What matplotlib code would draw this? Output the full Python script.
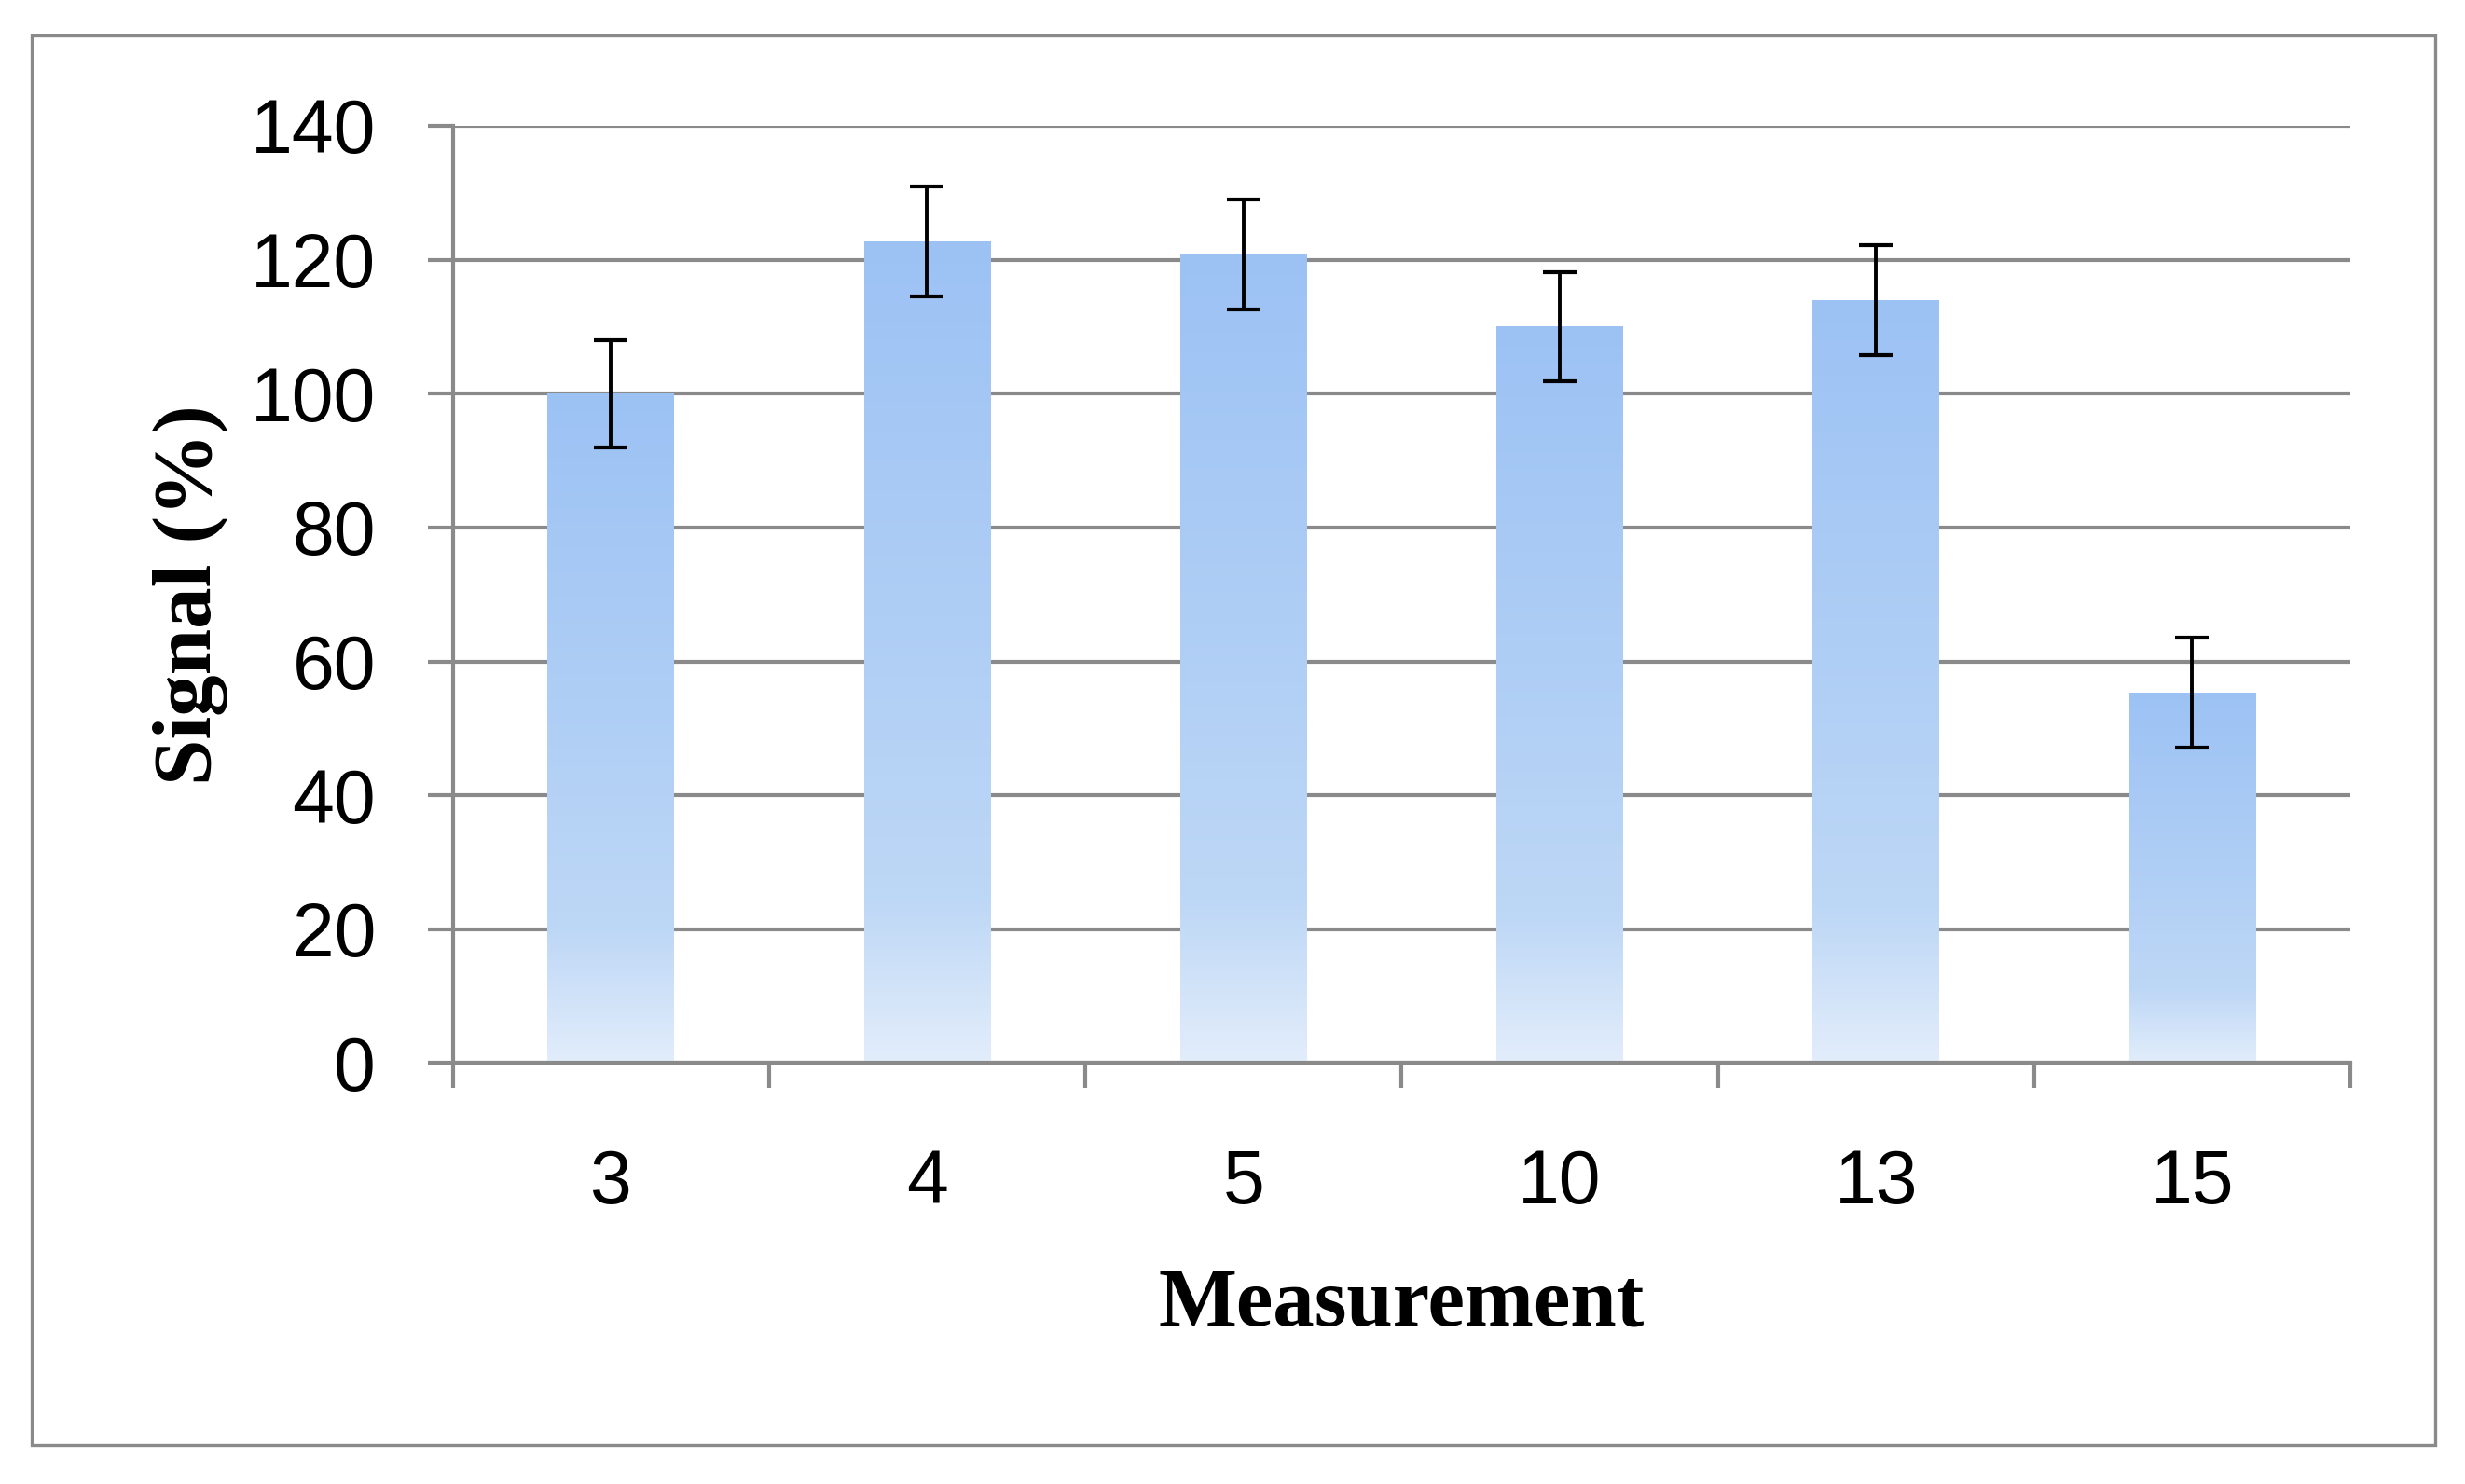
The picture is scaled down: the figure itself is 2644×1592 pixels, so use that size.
import matplotlib
matplotlib.use('Agg')

import numpy as np
import matplotlib.pyplot as plt
from matplotlib.colors import LinearSegmentedColormap
from matplotlib.patches import Rectangle

# Data
measurements = ['3', '4', '5', '10', '13', '15']
signal = [100, 122.7, 120.8, 110, 113.9, 55.3]
signal_err = [8.0, 8.2, 8.2, 8.1, 8.2, 8.2]

GREY = '#8A8A8A'

# Bar fill, dark at the top and fading out near the base
bar_cmap = LinearSegmentedColormap.from_list(
    'bar_fade', [(0.0, '#9CC2F4'), (0.8, '#BDD7F6'), (1.0, '#E2EDFB')])

fig = plt.figure(figsize=(13.22, 7.96), dpi=200)
ax = fig.add_axes([0.18366, 0.28361, 0.76986, 0.63165])

x = np.arange(len(measurements))
bars = ax.bar(x, signal, width=0.4, color='none', edgecolor='none', zorder=2)

# Gradient fill for each bar, clipped to the bar rectangle
grad = np.linspace(0, 1, 256).reshape(-1, 1)
for b in bars:
    x0, y0 = b.get_x(), b.get_y()
    w, h = b.get_width(), b.get_height()
    im = ax.imshow(grad, cmap=bar_cmap, aspect='auto', origin='upper',
                   extent=(x0, x0 + w, y0, y0 + h), zorder=2,
                   interpolation='bilinear')
    im.set_clip_path(b)

ax.errorbar(x, signal, yerr=signal_err, fmt='none', ecolor='black',
            elinewidth=1.4, capsize=6.5, capthick=1.5, zorder=3)

ax.set_xlim(-0.5, len(measurements) - 0.5)
ax.set_ylim(0, 140)
ax.set_yticks(np.arange(0, 141, 20))

# Major x ticks at the category boundaries, labels on minor ticks at centres
ax.set_xticks(np.arange(-0.5, len(measurements), 1.0))
ax.set_xticklabels([])
ax.set_xticks(x, minor=True)
ax.set_xticklabels(measurements, minor=True)

ax.yaxis.grid(True, color=GREY, linewidth=1.5, zorder=1)
ax.set_axisbelow(True)

for side in ['top', 'right']:
    ax.spines[side].set_visible(False)
for side in ['left', 'bottom']:
    ax.spines[side].set_color(GREY)
    ax.spines[side].set_linewidth(1.5)
ax.spines['bottom'].set_zorder(4)

ax.tick_params(axis='y', which='major', length=9.7, width=1.5, color=GREY,
               pad=20, labelsize=29, labelfontfamily='Liberation Sans')
ax.tick_params(axis='x', which='major', length=9.7, width=1.5, color=GREY,
               direction='out')
ax.tick_params(axis='x', which='minor', length=0, pad=33, labelsize=29,
               labelfontfamily='Liberation Sans')

ax.set_xlabel('Measurement', fontsize=32, fontweight='bold',
              family='Liberation Serif')
ax.xaxis.set_label_coords(0.5, -0.258)
ax.xaxis.label.set_va('center')
ax.set_ylabel('Signal (%)', fontsize=32, fontweight='bold',
              family='Liberation Serif')
ax.yaxis.set_label_coords(-0.138, 0.5)
ax.yaxis.label.set_va('center')

# Outer chart-area border
fig.patches.append(Rectangle((34 / 2644, 1 - 1550 / 1592),
                             (2612 - 34) / 2644, (1550 - 38) / 1592,
                             transform=fig.transFigure, fill=False,
                             edgecolor=GREY, linewidth=1.2))

plt.savefig('out.png', dpi=200)
